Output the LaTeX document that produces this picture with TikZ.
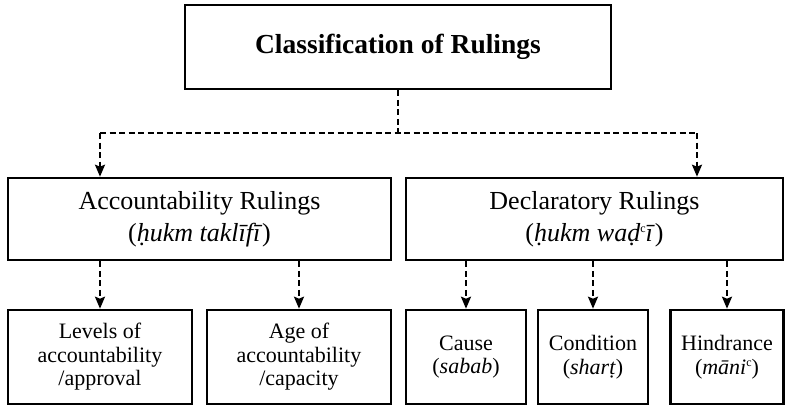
\documentclass[tikz,border=0pt]{standalone}
\usepackage{fontspec}
\setmainfont{Liberation Serif}
\usetikzlibrary{arrows.meta}
\newcommand{\ayn}{\raisebox{0.7ex}{\upshape\fontsize{12}{12}\selectfont c}}
\begin{document}
\begin{tikzpicture}[x=1pt,y=-1pt,
  box/.style={draw,line width=2.6pt,inner sep=0pt,align=center,fill=white},
  lvl/.style={box,minimum height=82pt,font=\fontsize{26}{32}\selectfont},
  leaf/.style={box,minimum height=94pt,font=\fontsize{22}{23.5}\selectfont},
  conn/.style={line width=2.1pt,dash pattern=on 6pt off 3.5pt},
  arr/.style={conn,-{Stealth[length=12pt,width=10pt,inset=2pt]}}]
\useasboundingbox (0,0) rectangle (788,407);
\node[box,minimum width=426pt,minimum height=84pt,font=\bfseries\fontsize{27.5}{30}\selectfont] (top) at (398,47) {Classification of Rulings};
\node[lvl,minimum width=383pt] (acc) at (199.5,219) {Accountability Rulings\\(\textit{ḥukm taklīfī})};
\node[lvl,minimum width=377pt] (dec) at (594.5,219) {Declaratory Rulings\\(\textit{ḥukm waḍ\ayn ī})};
\node[leaf,minimum width=184pt] (b1) at (100,357) {Levels of\\accountability\\/approval};
\node[leaf,minimum width=184pt] (b2) at (299,357) {Age of\\accountability\\/capacity};
\node[leaf,minimum width=120pt] (b3) at (466,357) {Cause\\(\textit{sabab})};
\node[leaf,minimum width=110pt] (b4) at (593,357) {Condition\\(\textit{sharṭ})};
\node[leaf,minimum width=113pt] (b5) at (727,357) {Hindrance\\(\textit{māni\ayn})};
\coordinate (j) at (398,133);
\coordinate (jl) at (100,133);
\coordinate (jr) at (697,133);
\draw[conn] (top.south) -- (j);
\draw[conn] (jl) -- (jr);
\draw[arr] (jl) -- (jl |- acc.north);
\draw[arr] (jr) -- (jr |- dec.north);
\draw[arr] (b1.north |- acc.south) -- (b1.north);
\draw[arr] (b2.north |- acc.south) -- (b2.north);
\draw[arr] (b3.north |- dec.south) -- (b3.north);
\draw[arr] (b4.north |- dec.south) -- (b4.north);
\draw[arr] (b5.north |- dec.south) -- (b5.north);
\end{tikzpicture}
\end{document}
